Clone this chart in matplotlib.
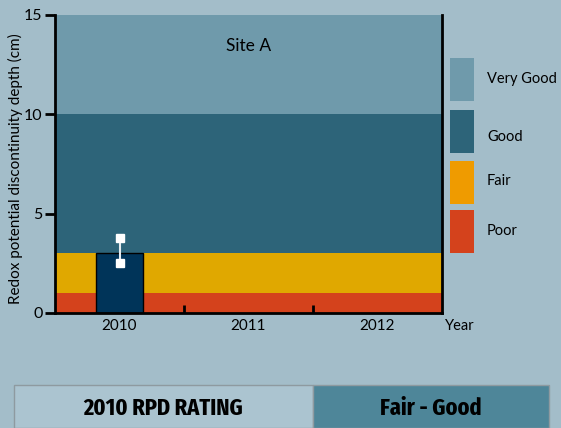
import matplotlib.pyplot as plt
from matplotlib.patches import Rectangle

# data
years = ["2010", "2011", "2012"]
rpd_depth = [3.0]
err_low = [2.5]
err_high = [3.8]

band_names = ["Poor", "Fair", "Good", "Very Good"]
band_lo = [0, 1, 3, 10]
band_hi = [1, 3, 10, 15]
band_colors = ["#d4421c", "#e0a800", "#2d6479", "#6f9aab"]
legend_colors = ["#d4421c", "#ef9b00", "#2d6479", "#6f9aab"]

rating_label = "2010 RPD RATING"
rating_value = "Fair - Good"

bg = "#a3bdc9"
plt.rcParams['font.family'] = ['Lato', 'DejaVu Sans']

fig = plt.figure(figsize=(5.61, 4.28), dpi=100, facecolor=bg)
ax = fig.add_axes([55/561, 1-313/428, (442-55)/561, (313-15)/428])
ax.set_facecolor(bg)

# rating bands
for lo, hi, c in zip(band_lo, band_hi, band_colors):
    ax.axhspan(lo, hi, color=c, lw=0, zorder=0)

x = list(range(len(rpd_depth)))
ax.bar(x, rpd_depth, width=0.36, color="#003459", edgecolor="black", lw=1, zorder=2)
for xi, lo, hi in zip(x, err_low, err_high):
    ax.plot([xi, xi], [lo, hi], color="#e6ecef", lw=1.5, zorder=3)
    ax.plot([xi, xi], [lo, hi], ls="none", marker="s", ms=6, color="white", zorder=4)

ax.set_xlim(-0.5, 2.5)
ax.set_ylim(0, 15)
ax.set_yticks([0, 5, 10, 15])
ax.tick_params(axis="y", direction="out", length=7, width=2, labelsize=11.5, pad=2)
ax.set_xticks(range(len(years)))
ax.set_xticklabels(years, fontsize=11)
ax.tick_params(axis="x", length=0, pad=4)
ax.set_xticks([0.5, 1.5], minor=True)
ax.tick_params(axis="x", which="minor", direction="in", length=6, width=2)

for s in ["left", "bottom", "right"]:
    ax.spines[s].set_linewidth(2)
    ax.spines[s].set_color("black")
ax.spines["top"].set_visible(False)

ax.set_ylabel("Redox potential discontinuity depth (cm)", fontsize=11)
ax.yaxis.set_label_coords(-(55-23)/387, 0.485)
ax.text(1.0, 13.45, "Site A", ha="center", va="center", fontsize=12.5)
fig.text(460/561, 1-326/428, "Year", ha="center", va="center", fontsize=10.5)

# legend boxes
box_y = [210, 161, 110, 58]
box_h = 43
txt_y = [231, 181, 137, 79]
for name, c, y0, ty in zip(band_names, legend_colors, box_y, txt_y):
    fig.patches.append(Rectangle((450/561, 1-(y0+box_h)/428), 24/561, box_h/428,
                                 transform=fig.transFigure, color=c, lw=0))
    fig.text(487/561, 1-ty/428, name, ha="left", va="center", fontsize=10.5)

# rating table at bottom
fig.patches.append(Rectangle((14/561, 0), (313-14)/561, (428-385)/428, transform=fig.transFigure,
                             facecolor="#abc4d0", edgecolor="#8e9aa0", lw=1))
fig.patches.append(Rectangle((313/561, 0), (549-313)/561, (428-385)/428, transform=fig.transFigure,
                             facecolor="#4e8699", edgecolor="#8e9aa0", lw=1))
bold_fam = ['Fira Sans Extra Condensed', 'PT Sans Narrow', 'Roboto Condensed', 'DejaVu Sans']
fig.text(163/561, 1-408/428, rating_label, ha="center", va="center", fontsize=17.5,
         fontweight="bold", family=bold_fam)
fig.text(431/561, 1-408/428, rating_value, ha="center", va="center", fontsize=17.5,
         fontweight="bold", family=bold_fam)

fig.savefig("out.png", dpi=100, facecolor=bg)
